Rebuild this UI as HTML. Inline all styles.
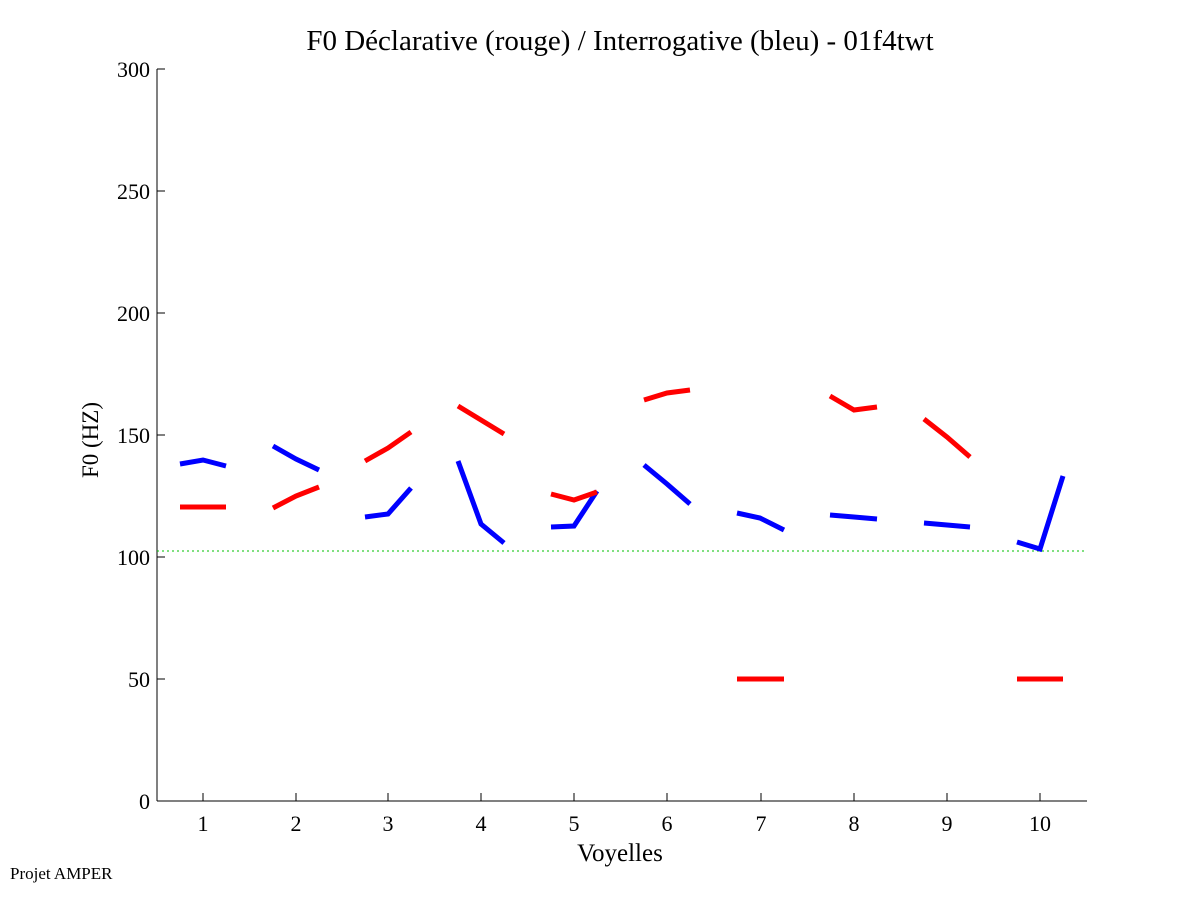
<!DOCTYPE html>
<html><head><meta charset="utf-8"><style>body{margin:0;background:#fff}svg{display:block}text{font-family:"Liberation Serif",serif}</style></head>
<body>
<svg width="1201" height="901" viewBox="0 0 1201 901" xmlns="http://www.w3.org/2000/svg">
<rect width="1201" height="901" fill="#fff"/>
<text x="620" y="50" font-size="29" text-anchor="middle">F0 Déclarative (rouge) / Interrogative (bleu) - 01f4twt</text>
<g stroke="#000" stroke-width="1" fill="none">
<line x1="157" y1="69" x2="157" y2="801"/>
<line x1="157" y1="801" x2="1087" y2="801"/>
<line x1="157" y1="69" x2="165" y2="69"/><line x1="157" y1="191" x2="165" y2="191"/><line x1="157" y1="313" x2="165" y2="313"/><line x1="157" y1="435" x2="165" y2="435"/><line x1="157" y1="557" x2="165" y2="557"/><line x1="157" y1="679" x2="165" y2="679"/>
<line x1="203" y1="801" x2="203" y2="793"/><line x1="296" y1="801" x2="296" y2="793"/><line x1="388" y1="801" x2="388" y2="793"/><line x1="481" y1="801" x2="481" y2="793"/><line x1="574" y1="801" x2="574" y2="793"/><line x1="667" y1="801" x2="667" y2="793"/><line x1="761" y1="801" x2="761" y2="793"/><line x1="854" y1="801" x2="854" y2="793"/><line x1="947" y1="801" x2="947" y2="793"/><line x1="1040" y1="801" x2="1040" y2="793"/>
</g>
<g font-size="22" text-anchor="end">
<text x="150" y="77">300</text><text x="150" y="199">250</text><text x="150" y="321">200</text><text x="150" y="443">150</text><text x="150" y="565">100</text><text x="150" y="687">50</text><text x="150" y="809">0</text>
</g>
<g font-size="22" text-anchor="middle">
<text x="203" y="831">1</text><text x="296" y="831">2</text><text x="388" y="831">3</text><text x="481" y="831">4</text><text x="574" y="831">5</text><text x="667" y="831">6</text><text x="761" y="831">7</text><text x="854" y="831">8</text><text x="947" y="831">9</text><text x="1040" y="831">10</text>
</g>
<text x="620" y="861" font-size="25" text-anchor="middle">Voyelles</text>
<text transform="translate(98,440) rotate(-90)" font-size="23" text-anchor="middle">F0 (HZ)</text>
<text x="10" y="879" font-size="17">Projet AMPER</text>
<line x1="157" y1="551" x2="1087" y2="551" stroke="#00c000" stroke-width="1" stroke-dasharray="2,3"/>
<g stroke="#0000ff" stroke-width="5" fill="none">
<polyline points="180,464 203,460 226,466"/>
<polyline points="273,446 296,459 319,470"/>
<polyline points="365,517 388,514 411,488"/>
<polyline points="458,461 481,524 504,543"/>
<polyline points="551,527 574,526 597,491"/>
<polyline points="644,465 667,484 690,504"/>
<polyline points="737,513 760,518 784,530"/>
<polyline points="830,515 854,517 877,519"/>
<polyline points="924,523 947,525 970,527"/>
<polyline points="1017,542 1040,549 1063,476"/>
</g>
<g stroke="#ff0000" stroke-width="5" fill="none">
<polyline points="180,507 226,507"/>
<polyline points="273,508 296,496 319,487"/>
<polyline points="365,461 388,448 411,432"/>
<polyline points="458,406 481,420 504,434"/>
<polyline points="551,494 574,500 597,492"/>
<polyline points="644,400 667,393 690,390"/>
<polyline points="737,679 784,679"/>
<polyline points="830,396 854,410 877,407"/>
<polyline points="924,419 947,437 970,457"/>
<polyline points="1017,679 1063,679"/>
</g>
</svg>
</body></html>
